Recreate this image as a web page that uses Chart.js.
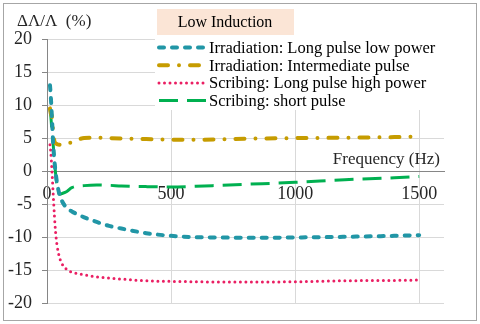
<!DOCTYPE html>
<html>
<head>
<meta charset="utf-8">
<script src="https://cdn.jsdelivr.net/npm/chart.js@4.4.1/dist/chart.umd.min.js"></script>
<style>
html, body { margin: 0; padding: 0; background: #ffffff; }
canvas { display: block; }
</style>
</head>
<body>
<canvas id="graphique" width="480" height="324"></canvas>
<script>
// Fréquences communes aux quatre séries (Hz)
const frequencies = [12, 15, 20, 25, 30, 35, 40, 50, 60, 80, 100, 150, 200, 250, 300, 400, 500, 600, 700, 800, 1000, 1200, 1400, 1500];

// Valeurs (%)
const irradLongLow = [13.0, 11.5, 8.0, 4.0, 1.5, -0.3, -1.7, -3.5, -4.5, -5.6, -6.1, -7.0, -7.7, -8.3, -8.7, -9.4, -9.8, -10.0, -10.05, -10.1, -10.05, -9.95, -9.8, -9.7];
const irradIntermediate = [9.5, 8.8, 8.2, 6.0, 4.5, 4.2, 4.1, 4.0, 4.0, 4.1, 4.4, 5.0, 5.05, 5.0, 4.95, 4.85, 4.75, 4.75, 4.8, 4.9, 5.0, 5.05, 5.15, 5.2];
const scribLongHigh = [4.0, 3.0, 0.0, -3.5, -6.8, -9.4, -11.1, -13.0, -14.0, -14.9, -15.3, -15.7, -16.0, -16.2, -16.35, -16.6, -16.7, -16.75, -16.8, -16.8, -16.75, -16.6, -16.55, -16.5];
const scribShort = [9.5, 8.5, 6.0, 4.0, 1.5, -0.5, -2.0, -3.5, -3.4, -3.1, -2.5, -2.2, -2.1, -2.15, -2.25, -2.35, -2.4, -2.3, -2.15, -2.0, -1.7, -1.3, -1.0, -0.8];

const seriesLabels = [
   'Irradiation: Long pulse low power',
   'Irradiation: Intermediate pulse',
   'Scribing: Long pulse high power',
   'Scribing: short pulse'
];

// Graduations des axes
const xTickValues = [0, 500, 1000, 1500];
const yTickValues = [-20, -15, -10, -5, 0, 5, 10, 15, 20];

const serifFont = '"Liberation Serif", "DejaVu Serif", serif';

function toPoints(values) {
   return values.map((v, i) => ({x: frequencies[i], y: v}));
}

// Légende, titres et cadre dessinés à la main
const decorPlugin = {
   id: 'decor',
   beforeDatasetsDraw(chart) {
      const ctx = chart.ctx;
      ctx.save();
      ctx.fillStyle = '#ffffff';
      ctx.fillRect(155, 39, 290, 71);
      ctx.font = '16.5px ' + serifFont;
      ctx.textBaseline = 'middle';
      ctx.textAlign = 'left';
      chart.data.datasets.forEach((ds, i) => {
         const y = 47.5 + i * 17.7;
         ctx.beginPath();
         ctx.strokeStyle = ds.borderColor;
         ctx.lineWidth = ds.borderWidth;
         ctx.lineCap = ds.borderCapStyle;
         ctx.setLineDash(ds.borderDash);
         ctx.moveTo(159, y);
         ctx.lineTo(206, y);
         ctx.stroke();
         ctx.setLineDash([]);
         ctx.fillStyle = '#000000';
         ctx.fillText(ds.label, 209, y + 1);
      });
      ctx.restore();
   },
   afterDraw(chart) {
      const ctx = chart.ctx;
      ctx.save();
      // boîte "Low Induction"
      ctx.fillStyle = '#fbe5d6';
      ctx.fillRect(157, 9, 137, 26);
      ctx.fillStyle = '#000000';
      ctx.font = '16px ' + serifFont;
      ctx.textAlign = 'center';
      ctx.textBaseline = 'middle';
      ctx.fillText('Low Induction', 225, 23);
      // titre axe Y
      ctx.font = '17px ' + serifFont;
      ctx.textAlign = 'left';
      ctx.fillStyle = '#262626';
      ctx.fillText('\u0394\u039B/\u039B  (%)', 17, 22);
      // titre axe X
      ctx.textAlign = 'right';
      ctx.fillText('Frequency (Hz)', 440, 160);
      // cadre extérieur
      ctx.strokeStyle = '#a6a6a6';
      ctx.lineWidth = 1;
      ctx.strokeRect(3.5, 3.5, 473, 317);
      ctx.restore();
   }
};

new Chart(
   document.getElementById('graphique'),
   {
      type: 'line',
      data: {
         datasets: [
            {
               label: seriesLabels[0],
               data: toPoints(irradLongLow),
               borderColor: '#2196a6',
               borderWidth: 4,
               borderDash: [5, 8],
               borderCapStyle: 'round'
            },
            {
               label: seriesLabels[1],
               data: toPoints(irradIntermediate),
               borderColor: '#c69c00',
               borderWidth: 4,
               borderDash: [9, 11, 0, 11],
               borderCapStyle: 'round'
            },
            {
               label: seriesLabels[2],
               data: toPoints(scribLongHigh),
               borderColor: '#ea1f63',
               borderWidth: 3,
               borderDash: [0, 5.5],
               borderCapStyle: 'round'
            },
            {
               label: seriesLabels[3],
               data: toPoints(scribShort),
               borderColor: '#00b050',
               borderWidth: 3,
               borderDash: [19, 9],
               borderCapStyle: 'butt'
            }
         ]
      },
      options: {
         responsive: false,
         animation: false,
         layout: {
            padding: {left: 0, top: 39, right: 36, bottom: 20}
         },
         elements: {
            point: {radius: 0},
            line: {cubicInterpolationMode: 'monotone', fill: false}
         },
         plugins: {
            legend: {display: false},
            tooltip: {enabled: false}
         },
         scales: {
            x: {
               type: 'linear',
               position: {y: 0},
               min: 0,
               max: 1600,
               afterBuildTicks: function(scale) {
                  scale.ticks = xTickValues.map(v => ({value: v}));
               },
               ticks: {
                  color: '#262626',
                  padding: 12,
                  font: {family: serifFont, size: 18},
                  callback: function(value) { return String(value); }
               },
               grid: {
                  color: '#d9d9d9',
                  drawTicks: false
               },
               border: {color: '#868686'}
            },
            y: {
               min: -20,
               max: 20,
               afterFit: function(scale) { scale.width = 47; },
               afterBuildTicks: function(scale) {
                  scale.ticks = yTickValues.map(v => ({value: v}));
               },
               ticks: {
                  color: '#262626',
                  padding: 10,
                  font: {family: serifFont, size: 18}
               },
               grid: {
                  color: '#d9d9d9',
                  tickColor: '#868686',
                  tickLength: 5
               },
               border: {color: '#868686'}
            }
         }
      },
      plugins: [decorPlugin]
   }
);
</script>
</body>
</html>
